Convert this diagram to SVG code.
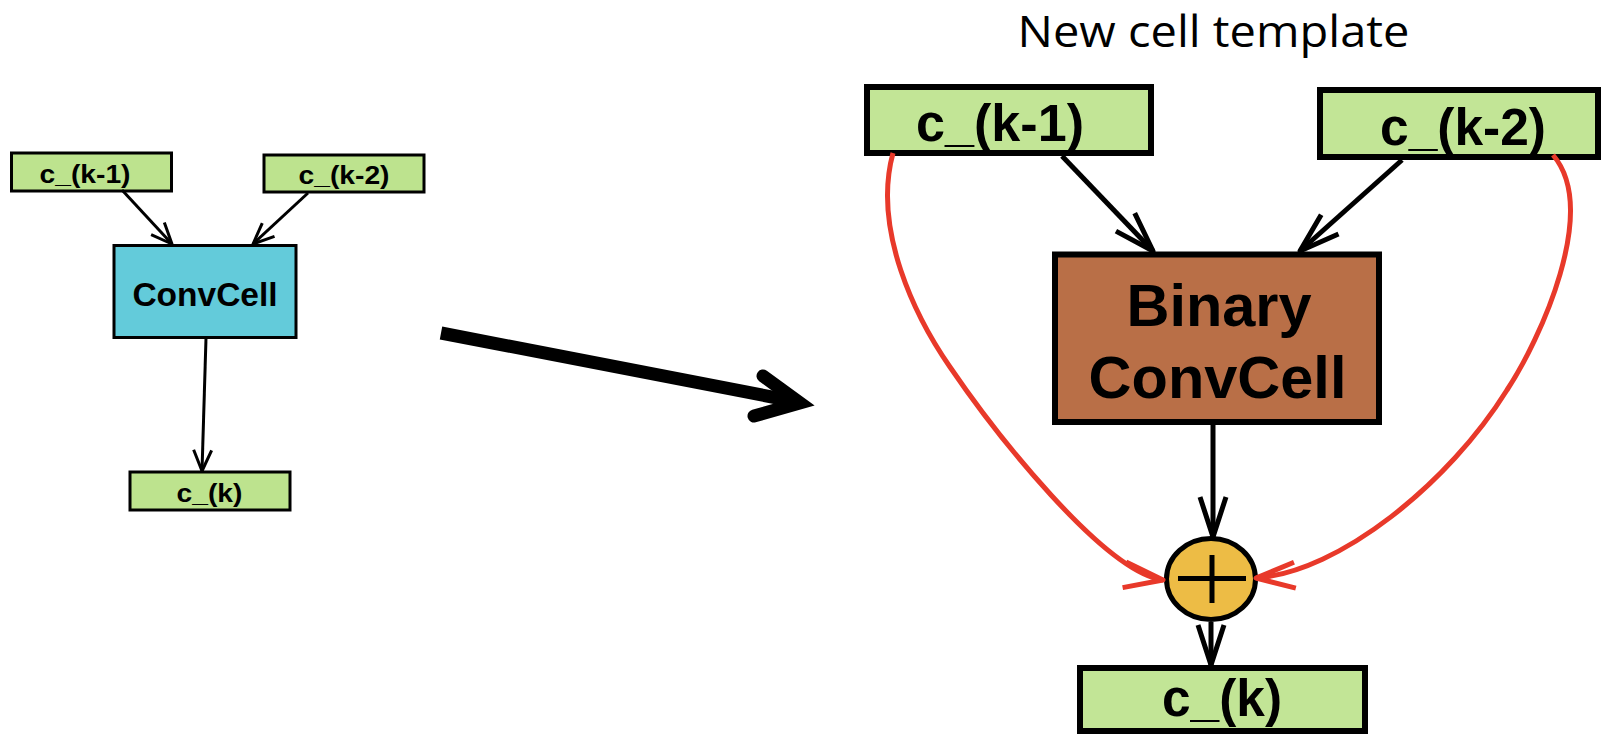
<svg xmlns="http://www.w3.org/2000/svg" width="1601" height="737" viewBox="0 0 1601 737">
  <style>
    .lbl { font-family: "Liberation Sans", Arial, sans-serif; font-weight: bold; fill: #000; text-anchor: middle; }
    .box-s { fill: #bde38e; stroke: #000; stroke-width: 3; }
    .box-l { fill: #c2e596; stroke: #000; stroke-width: 6; }
    .edge-s { fill: none; stroke: #000; stroke-width: 3; }
    .edge-l { fill: none; stroke: #000; stroke-width: 5; }
    .edge-r { fill: none; stroke: #e8392a; stroke-width: 5; }
    marker { overflow: visible; }
  </style>
  <defs>
    <marker id="vee-s" markerUnits="userSpaceOnUse" markerWidth="24" markerHeight="22" refX="22" refY="11" orient="auto">
      <path d="M1,2 L22,11 L1,20" fill="none" stroke="#000" stroke-width="3" stroke-linejoin="round"/>
    </marker>
    <marker id="vee-l" markerUnits="userSpaceOnUse" markerWidth="44" markerHeight="30" refX="42" refY="15" orient="auto">
      <path d="M2,2 L42,15 L2,28" fill="none" stroke="#000" stroke-width="5" stroke-linejoin="round"/>
    </marker>
    <marker id="vee-r" markerUnits="userSpaceOnUse" markerWidth="44" markerHeight="30" refX="42" refY="15" orient="auto">
      <path d="M3,2 L42,15 L3,28" fill="none" stroke="#e8392a" stroke-width="5" stroke-linejoin="round"/>
    </marker>
  </defs>

  <rect width="1601" height="737" fill="#fff"/>

  <!-- small graph: one ConvCell -->
  <g id="small-ck1">
    <rect class="box-s" x="11.5" y="153" width="160" height="38"/>
    <text class="lbl" x="85" y="183" font-size="26" textLength="91" lengthAdjust="spacingAndGlyphs">c_(k-1)</text>
  </g>
  <g id="small-ck2">
    <rect class="box-s" x="264" y="155" width="160" height="37"/>
    <text class="lbl" x="344" y="184" font-size="26" textLength="91" lengthAdjust="spacingAndGlyphs">c_(k-2)</text>
  </g>
  <g id="small-conv">
    <rect x="114" y="245.5" width="182" height="92" fill="#63cbda" stroke="#000" stroke-width="3"/>
    <text class="lbl" x="205" y="305.5" font-size="33.5">ConvCell</text>
  </g>
  <g id="small-ck">
    <rect class="box-s" x="130" y="472" width="160" height="38"/>
    <text class="lbl" x="209.5" y="501.5" font-size="26" textLength="66" lengthAdjust="spacingAndGlyphs">c_(k)</text>
  </g>

  <!-- transition arrow -->
  <g id="transform-arrow" fill="none" stroke="#000" stroke-width="13">
    <line x1="441" y1="333" x2="798" y2="402"/>
    <polyline points="763,376 800,403 754,416" stroke-linecap="round" stroke-linejoin="miter"/>
  </g>

  <!-- template graph -->
  <g id="title">
    <text x="1213.5" y="47" font-family="'Open Sans', 'Liberation Sans', sans-serif" font-size="44" text-anchor="middle" textLength="392" lengthAdjust="spacingAndGlyphs" fill="#000">New cell template</text>
  </g>
  <g id="tpl-ck1">
    <rect class="box-l" x="867" y="87" width="284" height="66"/>
    <text class="lbl" x="1000" y="141" font-size="51" textLength="168" lengthAdjust="spacingAndGlyphs">c_(k-1)</text>
  </g>
  <g id="tpl-ck2">
    <rect class="box-l" x="1320" y="90" width="278" height="67"/>
    <text class="lbl" x="1463" y="145" font-size="51" textLength="166" lengthAdjust="spacingAndGlyphs">c_(k-2)</text>
  </g>
  <g id="tpl-binary">
    <rect x="1055" y="254.5" width="324" height="167.5" fill="#b96f47" stroke="#000" stroke-width="6"/>
    <text class="lbl" x="1219" y="326" font-size="59.5">Binary</text>
    <text class="lbl" x="1217.5" y="398" font-size="59.5">ConvCell</text>
  </g>
  <g id="tpl-add">
    <ellipse cx="1211" cy="579" rx="44.5" ry="40.5" fill="#edbc45" stroke="#000" stroke-width="5"/>
    <path d="M1178,578.5 H1246 M1212,555 V603" stroke="#000" stroke-width="5" fill="none"/>
  </g>
  <g id="tpl-ck">
    <rect class="box-l" x="1080" y="668" width="285" height="63"/>
    <text class="lbl" x="1222" y="716" font-size="51" textLength="120" lengthAdjust="spacingAndGlyphs">c_(k)</text>
  </g>

  <g id="connectors">
    <line class="edge-s" x1="122" y1="190" x2="172" y2="244" marker-end="url(#vee-s)"/>
    <line class="edge-s" x1="308" y1="193" x2="253" y2="244" marker-end="url(#vee-s)"/>
    <line class="edge-s" x1="206" y1="338" x2="202" y2="471" marker-end="url(#vee-s)"/>

    <line class="edge-l" x1="1062" y1="156" x2="1153" y2="251" marker-end="url(#vee-l)"/>
    <line class="edge-l" x1="1402" y1="160" x2="1300" y2="251" marker-end="url(#vee-l)"/>
    <line class="edge-l" x1="1213" y1="425" x2="1213" y2="537" marker-end="url(#vee-l)"/>
    <line class="edge-l" x1="1211" y1="622" x2="1211" y2="665" marker-end="url(#vee-l)"/>

    <path class="edge-r" d="M893,153 C872,230 916,318 950,367 C995,433 1104,572 1163,580" marker-end="url(#vee-r)"/>
    <path class="edge-r" d="M1553,155 C1600,210 1540,340 1507,390 C1449,483 1340,572 1256,578" marker-end="url(#vee-r)"/>
  </g>
</svg>
